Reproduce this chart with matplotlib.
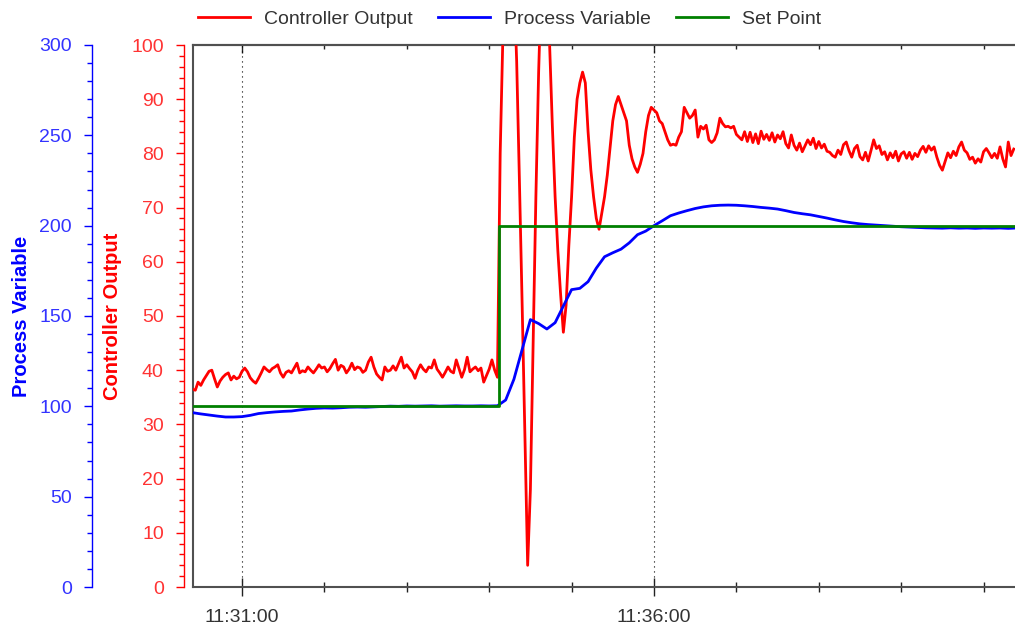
import matplotlib
matplotlib.use('Agg')
import matplotlib.pyplot as plt
import matplotlib.dates as mdates
import numpy as np
from matplotlib.ticker import MultipleLocator
from matplotlib.lines import Line2D

plt.rcParams['font.family'] = ['Liberation Sans', 'DejaVu Sans']

# time base of the trend (11:30:00), samples given in seconds after it
base = np.datetime64('2024-01-01T11:30:00')

# Controller Output (%), one sample every 2 s from 11:30:24
co_secs = np.arange(24, 624, 2)
co_values = [
    36.5, 36.3, 37.8, 37.2, 38.2, 39.0, 39.8, 40.0, 38.4, 36.9,
    38.0, 38.7, 39.2, 39.5, 38.2, 38.9, 38.4, 38.7, 39.8, 40.4,
    39.7, 38.6, 38.0, 37.6, 38.5, 39.5, 40.6, 40.1, 39.7, 40.3,
    40.6, 41.0, 39.5, 38.7, 39.6, 39.9, 39.5, 40.4, 41.3, 39.5,
    39.9, 39.7, 40.6, 40.0, 39.5, 40.2, 41.0, 40.4, 40.6, 39.7,
    40.3, 41.2, 42.0, 40.0, 40.9, 40.6, 39.5, 40.2, 41.3, 40.1,
    40.6, 40.4, 39.6, 40.0, 41.5, 42.4, 40.6, 39.3, 38.7, 38.2,
    40.6, 39.8, 40.0, 40.8, 40.0, 41.2, 42.4, 40.4, 41.0, 40.3,
    39.7, 38.5, 40.0, 41.0, 40.2, 39.7, 40.6, 40.4, 41.9, 40.2,
    39.5, 38.7, 39.6, 40.6, 39.8, 39.5, 41.9, 40.3, 38.7, 40.1,
    42.4, 39.7, 40.2, 40.6, 39.9, 40.4, 37.8, 39.0, 40.2, 41.9,
    40.0, 38.7, 80.0, 102.0, 115.0, 122.0, 122.0, 112.0, 97.0, 75.0,
    52.0, 28.0, 4.0, 18.0, 45.0, 72.0, 95.0, 112.0, 118.0, 110.0,
    100.0, 85.0, 72.0, 62.0, 54.0, 47.0, 52.0, 63.0, 72.0, 83.0,
    90.0, 93.0, 95.0, 93.0, 84.0, 77.0, 72.0, 68.0, 66.0, 69.0,
    72.0, 76.0, 81.0, 86.0, 89.0, 90.5, 89.0, 87.5, 86.0, 81.5,
    79.0, 77.5, 76.5, 78.0, 80.0, 84.0, 87.0, 88.5, 88.0, 87.5,
    86.0, 85.5, 84.0, 82.5, 81.5, 81.7, 81.5, 83.0, 84.0, 88.5,
    87.5, 86.5, 87.0, 88.0, 83.0, 85.0, 84.5, 85.2, 82.5, 82.0,
    82.5, 83.8, 86.5, 85.5, 84.9, 85.0, 84.7, 85.0, 83.5, 83.0,
    82.5, 84.0, 82.2, 83.9, 82.0, 83.6, 81.8, 84.1, 82.6, 83.5,
    82.4, 83.8, 82.1, 83.4, 82.7, 84.0, 81.8, 81.0, 83.4, 81.5,
    80.6, 81.9, 80.3, 81.4, 82.5, 81.6, 82.8, 80.9, 82.2, 81.0,
    81.7, 80.4, 80.2, 79.6, 79.3, 80.6, 79.8, 81.6, 82.1, 80.5,
    79.3, 80.9, 81.5, 79.4, 78.8, 80.2, 78.6, 80.5, 82.5, 80.9,
    81.4, 79.8, 80.3, 78.8, 80.1, 79.2, 80.4, 78.6, 79.9, 80.3,
    79.1, 80.2, 78.9, 80.0, 79.4, 80.6, 81.3, 80.2, 81.4, 80.6,
    81.2, 79.3, 77.8, 76.9, 78.5, 80.1, 79.2, 80.4, 79.6, 81.2,
    82.1, 80.6, 80.1, 78.9, 79.3, 78.2, 79.0, 78.4, 80.3, 80.9,
    80.1, 79.2, 80.0, 79.1, 81.2, 79.0, 77.5, 82.1, 79.6, 80.8,
]

# Process Variable, one sample every 6 s from 11:30:24
pv_secs = np.arange(24, 625, 6)
pv_values = [
    96.5, 95.8, 95.2, 94.6, 94.1, 94.1, 94.3, 95.0, 96.0, 96.5,
    96.9, 97.2, 97.4, 98.0, 98.5, 98.9, 99.1, 99.0, 99.2, 99.5,
    99.6, 99.5, 99.7, 99.9, 100.1, 100.0, 100.2, 100.1, 100.2, 100.3,
    100.1, 100.2, 100.3, 100.2, 100.2, 100.3, 100.2, 100.3, 103.5, 115.0,
    131.5, 148.0, 145.8, 142.8, 146.3, 155.5, 164.6, 165.3, 169.0, 176.5,
    182.8, 185.0, 187.0, 190.5, 195.0, 197.0, 200.0, 202.7, 205.5, 207.0,
    208.3, 209.5, 210.4, 211.0, 211.3, 211.4, 211.3, 211.0, 210.6, 210.1,
    209.7, 209.2, 208.3, 207.3, 206.6, 206.0, 205.1, 204.2, 203.2, 202.3,
    201.6, 201.0, 200.6, 200.3, 200.0, 199.7, 199.4, 199.2, 199.0, 198.8,
    198.7, 198.6, 198.8, 198.6, 198.7, 198.5, 198.7, 198.6, 198.7, 198.5,
    198.7,
]

# Set Point (same units as Process Variable)
sp_secs = [24, 247, 247, 624]
sp_values = [100, 100, 200, 200]

labels = ['Controller Output', 'Process Variable', 'Set Point']
colors = ['#ff0000', '#0000ff', '#008000']


def to_time(secs):
    return base + (np.asarray(secs) * 1000).astype('int64') * np.timedelta64(1, 'ms')


fig = plt.figure(figsize=(10.15, 6.28), dpi=100)
ax = fig.add_axes([193 / 1015, 41 / 628, 822 / 1015, 542 / 628])

# red (controller output) and blue (process variable) axes, both on the left
ax_co = ax.twinx()
ax_pv = ax.twinx()

ax_co.plot(to_time(co_secs), co_values, color=colors[0], lw=2, zorder=3)
ax_pv.plot(to_time(pv_secs), pv_values, color=colors[1], lw=2, zorder=3)
ax_pv.plot(to_time(sp_secs), sp_values, color=colors[2], lw=2, zorder=4)

ax.set_xlim(to_time(24.3), to_time(622.9))
ax.set_ylim(0, 100)
ax_co.set_ylim(0, 100)
ax_pv.set_ylim(0, 300)

# plot box
for s in ['left', 'top', 'bottom']:
    ax.spines[s].set_color('#505050')
    ax.spines[s].set_linewidth(1.5)
ax.spines['right'].set_visible(False)
ax.tick_params(axis='y', left=False, labelleft=False, right=False)

# time axis
ax.xaxis.set_major_locator(mdates.MinuteLocator(byminute=range(1, 60, 5)))
ax.xaxis.set_minor_locator(mdates.MinuteLocator())
ax.xaxis.set_major_formatter(mdates.DateFormatter('%H:%M:%S'))
ax.tick_params(axis='x', which='major', direction='inout', length=13, width=1,
               color='#222222', labelsize=14, labelcolor='#333333', pad=9)
ax.tick_params(axis='x', which='minor', direction='inout', length=7, width=1,
               color='#222222')
ax.grid(axis='x', which='major', color='black', lw=0.8, linestyle=(0, (1, 3.5)))

top = ax.secondary_xaxis('top')
top.xaxis.set_major_locator(mdates.MinuteLocator(byminute=range(1, 60, 5)))
top.xaxis.set_minor_locator(mdates.MinuteLocator())
top.tick_params(axis='x', which='major', direction='in', length=6, width=1,
                color='#222222', labeltop=False)
top.tick_params(axis='x', which='minor', direction='in', length=3, width=1,
                color='#222222')
top.spines['top'].set_color('#505050')
top.spines['top'].set_linewidth(1.5)


def left_axis(a, offset, color, labelcolor, major, minor, label, label_x):
    for s in ['right', 'top', 'bottom']:
        a.spines[s].set_visible(False)
    a.spines['left'].set_visible(True)
    a.spines['left'].set_position(('outward', offset))
    a.spines['left'].set_color(color)
    a.spines['left'].set_linewidth(1)
    a.yaxis.tick_left()
    a.yaxis.set_label_position('left')
    a.yaxis.set_major_locator(MultipleLocator(major))
    a.yaxis.set_minor_locator(MultipleLocator(minor))
    a.tick_params(axis='y', which='major', length=6, width=1, color=color,
                  labelcolor=labelcolor, labelsize=14, pad=8.5)
    a.tick_params(axis='y', which='minor', length=3.5, width=1, color=color)
    a.set_ylabel(label, color=color, fontsize=14.5, fontweight='bold')
    a.yaxis.set_label_coords(label_x, 0.5)


left_axis(ax_co, 6.5, '#ff0000', '#ff3333', 10, 2, 'Controller Output', (122 - 193) / 822)
left_axis(ax_pv, 72.7, '#0000ff', '#3333ff', 50, 10, 'Process Variable', (31 - 193) / 822)

handles = [Line2D([], [], color=c, lw=2) for c in colors]
leg = fig.legend(handles, labels, loc='center left',
                 bbox_to_anchor=(198 / 1015, 1 - 19 / 628), ncol=3, frameon=False,
                 handlelength=2.68, handletextpad=0.72, columnspacing=1.29,
                 borderpad=0, borderaxespad=0, fontsize=14)
for t in leg.get_texts():
    t.set_color('#333333')

fig.savefig('out.png', dpi=100)
